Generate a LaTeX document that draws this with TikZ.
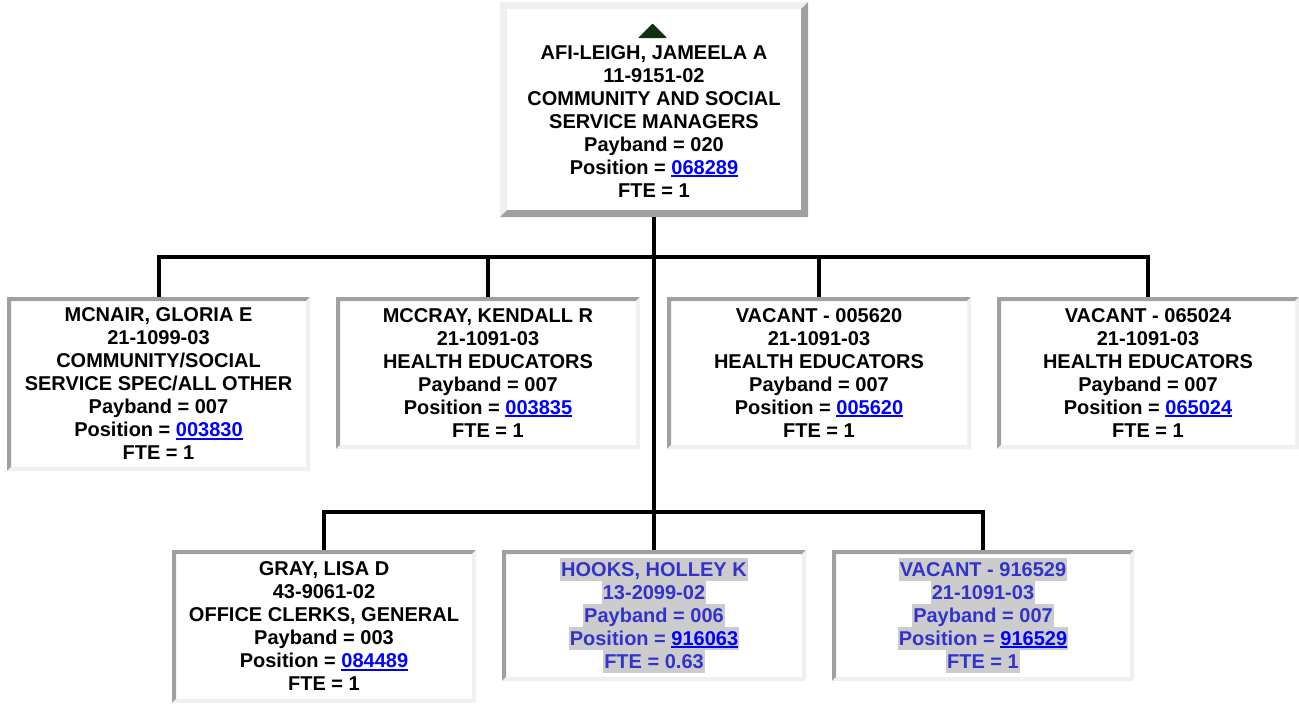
\documentclass[tikz,border=0pt]{standalone}
\usepackage{fontspec}
\setmainfont{Liberation Sans}
\definecolor{bvdark}{RGB}{160,160,160}
\definecolor{bvlight}{RGB}{240,240,240}
\definecolor{lnkblue}{RGB}{0,0,255}
\definecolor{vactext}{RGB}{51,51,204}
\definecolor{hlgrey}{RGB}{204,204,204}
\definecolor{tricol}{RGB}{16,48,16}
\newcommand\lnk[1]{{\color{lnkblue}\setbox0\hbox{#1}\rlap{\rule[-2pt]{\wd0}{1.5pt}}\box0}}
\newcommand\hlt[1]{{\setlength\fboxsep{0pt}\colorbox{hlgrey}{\rule[-3.35pt]{0pt}{17.25pt}\kern.6pt#1\kern.6pt}}}
\newcommand\bevelbox[4]{%
 \fill[#3] (#1.north west) -- (#1.north east) -- ([xshift=-#2,yshift=-#2]#1.north east) -- ([xshift=#2,yshift=-#2]#1.north west) -- ([xshift=#2,yshift=#2]#1.south west) -- (#1.south west) -- cycle;
 \fill[#4] (#1.north east) -- (#1.south east) -- (#1.south west) -- ([xshift=#2,yshift=#2]#1.south west) -- ([xshift=-#2,yshift=#2]#1.south east) -- ([xshift=-#2,yshift=-#2]#1.north east) -- cycle;}
\tikzset{
 card/.style={rectangle, inner sep=0pt, outer sep=0pt, align=center,
   font=\fontsize{15}{17.25}\selectfont\bfseries},
 conn/.style={draw=black, line width=3pt, line join=miter},
}
\begin{document}
\begin{tikzpicture}[x=0.75pt,y=-0.75pt]
\fill[white] (0,0) rectangle (1299,708);
\useasboundingbox (0,0) rectangle (1299,708);

\node[card, minimum width=231pt, minimum height=161.25pt] (top) at (654,109.5)
 {\rule{0pt}{10.7pt}\\AFI-LEIGH, JAMEELA A\\11-9151-02\\COMMUNITY AND SOCIAL\\SERVICE MANAGERS\\Payband = 020\\Position = \lnk{068289}\\FTE = 1};

\node[card, minimum width=227.25pt, minimum height=130.5pt] (a) at (158.5,384)
 {MCNAIR, GLORIA E\\21-1099-03\\COMMUNITY/SOCIAL\\SERVICE SPEC/ALL OTHER\\Payband = 007\\Position = \lnk{003830}\\FTE = 1};
\node[card, minimum width=228pt, minimum height=114pt] (b) at (488,373)
 {MCCRAY, KENDALL R\\21-1091-03\\HEALTH EDUCATORS\\Payband = 007\\Position = \lnk{003835}\\FTE = 1};
\node[card, minimum width=228pt, minimum height=114pt] (c) at (819,373)
 {VACANT - 005620\\21-1091-03\\HEALTH EDUCATORS\\Payband = 007\\Position = \lnk{005620}\\FTE = 1};
\node[card, minimum width=226.5pt, minimum height=114pt] (d) at (1148,373)
 {VACANT - 065024\\21-1091-03\\HEALTH EDUCATORS\\Payband = 007\\Position = \lnk{065024}\\FTE = 1};

\node[card, minimum width=228pt, minimum height=114.75pt] (e) at (324,626.5)
 {GRAY, LISA D\\43-9061-02\\OFFICE CLERKS, GENERAL\\Payband = 003\\Position = \lnk{084489}\\FTE = 1};
\node[card, text=vactext, minimum width=228pt, minimum height=98.25pt] (f) at (654,615.5)
 {\hlt{HOOKS, HOLLEY K}\\\hlt{13-2099-02}\\\hlt{Payband = 006}\\\hlt{Position = \lnk{916063}}\\\hlt{FTE = 0.63}};
\node[card, text=vactext, minimum width=226.5pt, minimum height=98.25pt] (g) at (983,615.5)
 {\hlt{VACANT - 916529}\\\hlt{21-1091-03}\\\hlt{Payband = 007}\\\hlt{Position = \lnk{916529}}\\\hlt{FTE = 1}};

\bevelbox{top}{5.25pt}{bvlight}{bvdark}
\bevelbox{a}{3pt}{bvdark}{bvlight}
\bevelbox{b}{3pt}{bvdark}{bvlight}
\bevelbox{c}{3pt}{bvdark}{bvlight}
\bevelbox{d}{3pt}{bvdark}{bvlight}
\bevelbox{e}{3pt}{bvdark}{bvlight}
\bevelbox{f}{3pt}{bvdark}{bvlight}
\bevelbox{g}{3pt}{bvdark}{bvlight}

\fill[tricol, rounded corners=0.6pt] (638,38) -- (667,38) -- (652.5,23.5) -- cycle;

\coordinate (j1) at (654,257);
\coordinate (j2) at (654,512);
\draw[conn] (top.south) -- (top.south |- j2);
\draw[conn] (a.north) -- (a.north |- j1) -- (d.north |- j1) -- (d.north);
\draw[conn] (b.north) -- (b.north |- j1);
\draw[conn] (c.north) -- (c.north |- j1);
\draw[conn] (e.north) -- (e.north |- j2) -- (g.north |- j2) -- (g.north);
\draw[conn] (f.north) -- (f.north |- j2);
\end{tikzpicture}
\end{document}
